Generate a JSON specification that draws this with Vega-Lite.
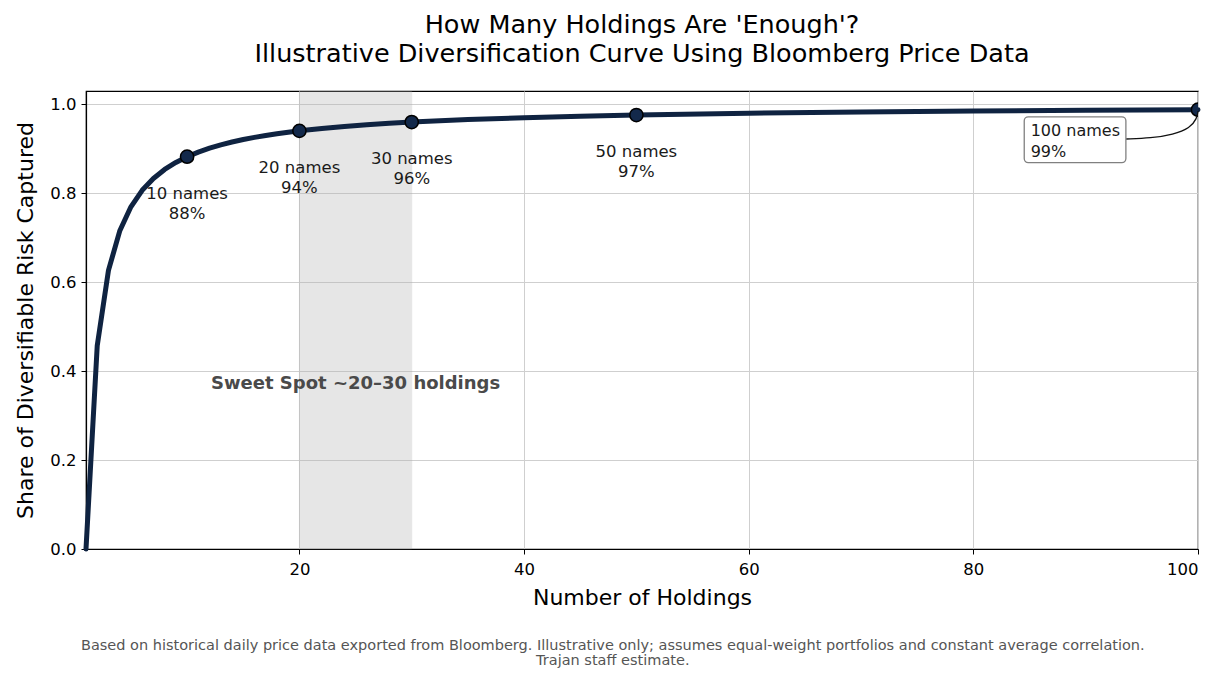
{
  "$schema": "https://vega.github.io/schema/vega-lite/v6.json",
  "width": 1112,
  "height": 458,
  "autosize": {"type": "none"},
  "padding": {"left": 86, "top": 91, "right": 27, "bottom": 130},
  "background": "white",
  "title": {
    "text": ["How Many Holdings Are 'Enough'?", "Illustrative Diversification Curve Using Bloomberg Price Data"],
    "font": "DejaVu Sans",
    "fontSize": 25.5,
    "fontWeight": "normal",
    "lineHeight": 29,
    "color": "#000000",
    "offset": 23,
    "anchor": "middle"
  },
  "config": {
    "font": "DejaVu Sans",
    "view": {"stroke": "#000000", "strokeWidth": 1.2},
    "axis": {
      "domainColor": "#000000",
      "domainWidth": 1.2,
      "tickColor": "#000000",
      "tickSize": 5,
      "tickWidth": 1,
      "labelFont": "DejaVu Sans",
      "labelFontSize": 16.5,
      "labelColor": "#000000",
      "titleFont": "DejaVu Sans",
      "titleFontSize": 22,
      "titleFontWeight": "normal",
      "titleColor": "#000000",
      "gridColor": "#cfcfcf",
      "gridWidth": 1
    }
  },
  "datasets": {
    "curve": [
      {"n": 1, "share": 0.0},
      {"n": 2, "share": 0.4574},
      {"n": 3, "share": 0.6265},
      {"n": 4, "share": 0.715},
      {"n": 5, "share": 0.7696},
      {"n": 6, "share": 0.8066},
      {"n": 7, "share": 0.8333},
      {"n": 8, "share": 0.8536},
      {"n": 9, "share": 0.8694},
      {"n": 10, "share": 0.8822},
      {"n": 11, "share": 0.8926},
      {"n": 12, "share": 0.9014},
      {"n": 13, "share": 0.9089},
      {"n": 14, "share": 0.9153},
      {"n": 15, "share": 0.9208},
      {"n": 16, "share": 0.9257},
      {"n": 17, "share": 0.93},
      {"n": 18, "share": 0.9338},
      {"n": 19, "share": 0.9373},
      {"n": 20, "share": 0.9404},
      {"n": 22, "share": 0.9457},
      {"n": 24, "share": 0.9502},
      {"n": 26, "share": 0.954},
      {"n": 28, "share": 0.9573},
      {"n": 30, "share": 0.9601},
      {"n": 35, "share": 0.9658},
      {"n": 40, "share": 0.97},
      {"n": 45, "share": 0.9733},
      {"n": 50, "share": 0.976},
      {"n": 60, "share": 0.98},
      {"n": 70, "share": 0.9828},
      {"n": 80, "share": 0.985},
      {"n": 90, "share": 0.9866},
      {"n": 100, "share": 0.988}
    ],
    "keypoints": [
      {"n": 10, "share": 0.8822, "label": "10 names\n88%"},
      {"n": 20, "share": 0.9404, "label": "20 names\n94%"},
      {"n": 30, "share": 0.9601, "label": "30 names\n96%"},
      {"n": 50, "share": 0.976, "label": "50 names\n97%"},
      {"n": 100, "share": 0.988, "label": "100 names\n99%"}
    ],
    "connector": [
      {"o": 1, "n": 93.6, "share": 0.922},
      {"o": 2, "n": 95.8, "share": 0.924},
      {"o": 3, "n": 97.8, "share": 0.932},
      {"o": 4, "n": 99.3, "share": 0.947},
      {"o": 5, "n": 99.9, "share": 0.968},
      {"o": 6, "n": 100, "share": 0.985}
    ],
    "band": [{"start": 20, "end": 30}]
  },
  "layer": [
    {
      "data": {"name": "band"},
      "mark": {"type": "rect", "color": "#b0b0b0", "opacity": 0.3, "stroke": "#a0a0a0", "strokeOpacity": 0.6, "strokeWidth": 1},
      "encoding": {
        "x": {"field": "start", "type": "quantitative", "title": "Number of Holdings"},
        "x2": {"field": "end"}
      }
    },
    {
      "data": {"name": "curve"},
      "mark": {"type": "line", "color": "#0f2341", "strokeWidth": 5, "strokeCap": "round", "strokeJoin": "round"},
      "encoding": {
        "x": {
          "field": "n",
          "type": "quantitative",
          "title": "Number of Holdings",
          "scale": {"domain": [1, 100], "nice": false, "zero": false},
          "axis": {"values": [20, 40, 60, 80, 100], "grid": true, "labelPadding": 7, "titlePadding": 10}
        },
        "y": {
          "field": "share",
          "type": "quantitative",
          "title": "Share of Diversifiable Risk Captured",
          "scale": {"domain": [0, 1.03], "nice": false, "zero": true},
          "axis": {"values": [0, 0.2, 0.4, 0.6, 0.8, 1.0], "format": ".1f", "grid": true, "labelPadding": 5, "titlePadding": 12}
        }
      }
    },
    {
      "data": {"name": "keypoints"},
      "mark": {"type": "point", "shape": "circle", "filled": true, "fill": "#13294b", "stroke": "#000000", "strokeWidth": 1.5, "size": 175, "opacity": 1, "clip": true},
      "encoding": {
        "x": {"field": "n", "type": "quantitative", "title": "Number of Holdings"},
        "y": {"field": "share", "type": "quantitative", "title": "Share of Diversifiable Risk Captured"}
      }
    },
    {
      "data": {"name": "keypoints"},
      "transform": [{"filter": "datum.n < 100"}],
      "mark": {"type": "text", "align": "center", "baseline": "top", "dy": 29, "fontSize": 16.5, "lineHeight": 20, "lineBreak": "\n", "color": "#1a1a1a", "font": "DejaVu Sans"},
      "encoding": {
        "x": {"field": "n", "type": "quantitative", "title": "Number of Holdings"},
        "y": {"field": "share", "type": "quantitative", "title": "Share of Diversifiable Risk Captured"},
        "text": {"field": "label"}
      }
    },
    {
      "data": {"values": [{}]},
      "mark": {"type": "text", "text": "Sweet Spot ~20–30 holdings", "align": "center", "baseline": "middle", "fontSize": 18, "fontWeight": "bold", "color": "#4a4a4a", "font": "DejaVu Sans"},
      "encoding": {
        "x": {"datum": 25},
        "y": {"datum": 0.37}
      }
    },
    {
      "data": {"name": "connector"},
      "mark": {"type": "line", "color": "#111111", "strokeWidth": 1.3, "interpolate": "basis"},
      "encoding": {
        "x": {"field": "n", "type": "quantitative", "title": "Number of Holdings"},
        "y": {"field": "share", "type": "quantitative", "title": "Share of Diversifiable Risk Captured"},
        "order": {"field": "o"}
      }
    },
    {
      "data": {"values": [{}]},
      "mark": {"type": "rect", "fill": "#ffffff", "stroke": "#808080", "strokeWidth": 1.3, "cornerRadius": 4},
      "encoding": {
        "x": {"datum": 84.53},
        "x2": {"datum": 93.58},
        "y": {"datum": 0.972},
        "y2": {"datum": 0.869}
      }
    },
    {
      "data": {"values": [{}]},
      "mark": {"type": "text", "text": ["100 names", "99%"], "align": "left", "baseline": "top", "fontSize": 16, "lineHeight": 21, "color": "#1a1a1a", "font": "DejaVu Sans"},
      "encoding": {
        "x": {"datum": 85.1},
        "y": {"datum": 0.958}
      }
    },
    {
      "data": {"values": [{}]},
      "mark": {"type": "text", "text": ["Based on historical daily price data exported from Bloomberg. Illustrative only; assumes equal-weight portfolios and constant average correlation.", "Trajan staff estimate."], "align": "center", "baseline": "top", "fontSize": 14.5, "lineHeight": 15.5, "color": "#555555", "font": "DejaVu Sans"},
      "encoding": {
        "x": {"datum": 47.9},
        "y": {"datum": -0.202}
      }
    }
  ]
}
